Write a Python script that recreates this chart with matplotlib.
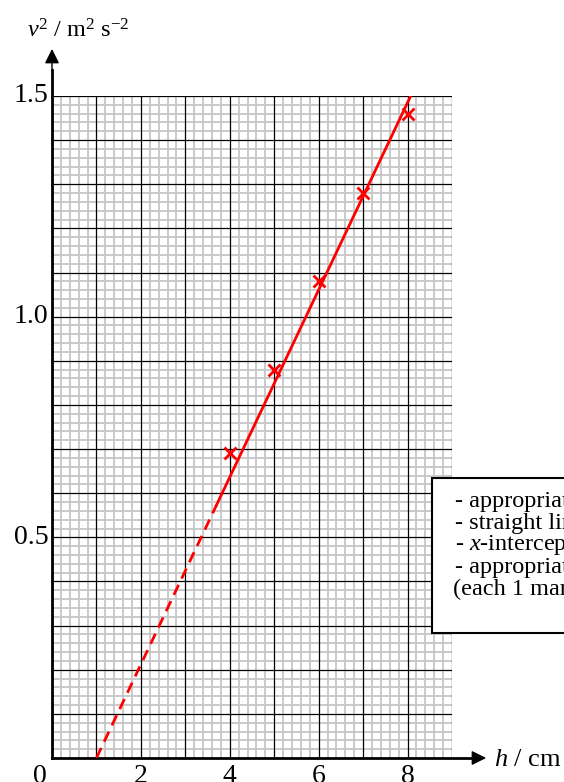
import numpy as np
import matplotlib.pyplot as plt
from matplotlib.patches import Rectangle

h = [4, 5, 6, 7, 8]
v2 = [0.69, 0.88, 1.08, 1.28, 1.46]
x_int = 1.0
fit_end = (8.07, 1.5)
dash_to = 3.7
notes = ["- appropriate scales", "- straight line of best fit", "- $x$-intercept at 1.0 cm",
         "- appropriate labels", "(each 1 mark)"]

plt.rcParams['font.family'] = ['Liberation Serif', 'DejaVu Serif']
plt.rcParams['mathtext.fontset'] = 'custom'
plt.rcParams['mathtext.rm'] = 'Liberation Serif'
plt.rcParams['mathtext.it'] = 'Liberation Serif:italic'

fig = plt.figure(figsize=(5.64, 7.82), dpi=100)
ax = fig.add_axes([52/564, 24/782, 400/564, 662/782])
ax.set_xlim(0, 9)
ax.set_ylim(0, 1.5)

# graph paper: grey every 0.2 / 0.02, black every 1 / 0.1
for xv in np.arange(0, 9.01, 0.2):
    k = round(xv * 10)
    if k % 10 == 0:
        ax.axvline(xv, color='black', lw=0.9, zorder=2)
    else:
        ax.axvline(xv, color='#c6c6c6', lw=1.3, zorder=1)
for yv in np.arange(0, 1.501, 0.02):
    k = round(yv * 100)
    if k % 10 == 0:
        ax.axhline(yv, color='black', lw=0.9, zorder=2)
    else:
        ax.axhline(yv, color='#c6c6c6', lw=1.3, zorder=1)

for s in ax.spines.values():
    s.set_visible(False)
ax.set_xticks([])
ax.set_yticks([])

# axes with arrows
ax.plot([0, 0], [0, 1.56], color='black', lw=2, clip_on=False, zorder=5)
ax.plot([0, 9.5], [0, 0], color='black', lw=2, clip_on=False, zorder=5)
ax.annotate('', xy=(0, 1.613), xytext=(0, 1.55), annotation_clip=False,
            arrowprops=dict(arrowstyle='-|>', color='black', lw=1, mutation_scale=22))
ax.annotate('', xy=(9.83, 0), xytext=(9.4, 0), annotation_clip=False,
            arrowprops=dict(arrowstyle='-|>', color='black', lw=1, mutation_scale=22))

# tick labels
for t in [2, 4, 6, 8]:
    ax.text(t, -0.014, str(t), ha='center', va='top', fontsize=20)
ax.text(-0.27, -0.014, '0', ha='center', va='top', fontsize=20)
for t in [0.5, 1.0, 1.5]:
    ax.text(-0.08, t, f'{t:.1f}', ha='right', va='center', fontsize=20)

ax.text(-0.57, 1.648, r'$v^2$ / m$^2$ s$^{-2}$', fontsize=17.5, va='center', ha='left')
ax.text(9.95, -0.005, r'$h$ / cm', fontsize=19, va='center', ha='left')

# best fit line
slope = fit_end[1] / (fit_end[0] - x_int)
ax.plot([x_int, dash_to], [0, slope * (dash_to - x_int)], color='red', lw=2,
        ls=(0, (4, 2.5)), zorder=6)
ax.plot([dash_to, fit_end[0]], [slope * (dash_to - x_int), fit_end[1]], color='red',
        lw=2, zorder=6)
ax.plot(h, v2, 'x', color='red', ms=9, mew=2, zorder=7)

# marking box
fig.add_artist(Rectangle((432/564, 1 - 633/782), 200/564, 155/782, transform=fig.transFigure,
                         fc='white', ec='black', lw=1.5, zorder=8))
for i, line in enumerate(notes):
    x0 = 455 if i < 4 else 453
    fig.text(x0/564, 1 - (501 + 22.2*i)/782, line, fontsize=17.5, va='center',
             ha='left', zorder=9)

fig.savefig('out.png', dpi=100)
